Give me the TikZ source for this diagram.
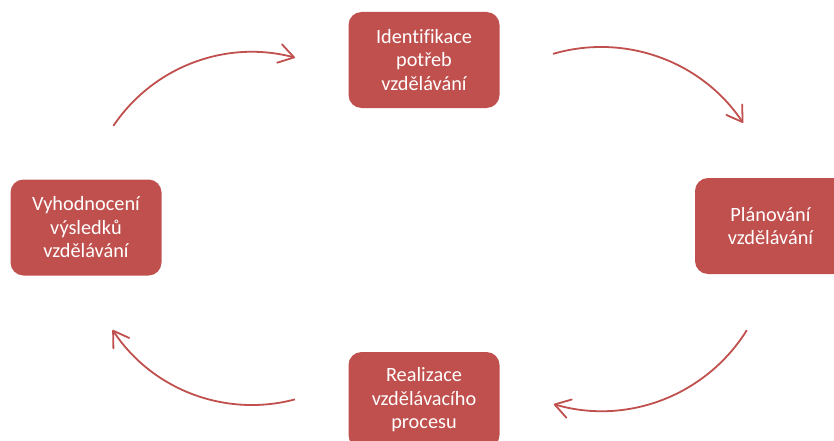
\documentclass[tikz,border=0pt]{standalone}
\usepackage{fontspec}
\setmainfont{Carlito}[Ligatures=NoCommon]
\usetikzlibrary{arrows.meta,calc}
\definecolor{boxred}{HTML}{C0504D}
\tikzset{
  stagebox/.style={rectangle, rounded corners=13pt, fill=boxred, text=white,
    minimum width=151pt, minimum height=96pt, align=center, inner sep=2pt,
    font=\fontsize{20.3}{23.5}\selectfont},
  cyclearrow/.style={draw=boxred, line width=1.8pt,
    -{Straight Barb[length=15pt, width=19pt, line cap=round, line join=round]}}
}
\begin{document}
\begin{tikzpicture}[x=1pt,y=1pt]
\useasboundingbox (0,0) rectangle (834,440);
\clip (0,0) rectangle (834,440);
\coordinate (ctr) at (601,222);
\coordinate (cbr) at (601.5,200);
\coordinate (cbl) at (252,202);
\coordinate (ctl) at (252,221);
\node[stagebox] (ident) at (424,380) {Identifikace\\potřeb\\vzdělávání};
\node[stagebox] (plan) at (770.5,214) {Plánování\\vzdělávání};
\node[stagebox] (real) at (424,40) {Realizace\\vzdělávacího\\procesu};
\node[stagebox] (eval) at (86,212.5) {Vyhodnocení\\výsledků\\vzdělávání};
\draw[cyclearrow] ([shift={(106.3:171pt)}]ctr) arc[start angle=106.3, end angle=33.8, radius=171pt];
\draw[cyclearrow] ([shift={(-31.8:171pt)}]cbr) arc[start angle=-31.8, end angle=-106.2, radius=171pt];
\draw[cyclearrow] ([shift={(-75.1:167pt)}]cbl) arc[start angle=-75.1, end angle=-146.6, radius=167pt];
\draw[cyclearrow] ([shift={(146.1:167pt)}]ctl) arc[start angle=146.1, end angle=75.1, radius=167pt];
\end{tikzpicture}
\end{document}
